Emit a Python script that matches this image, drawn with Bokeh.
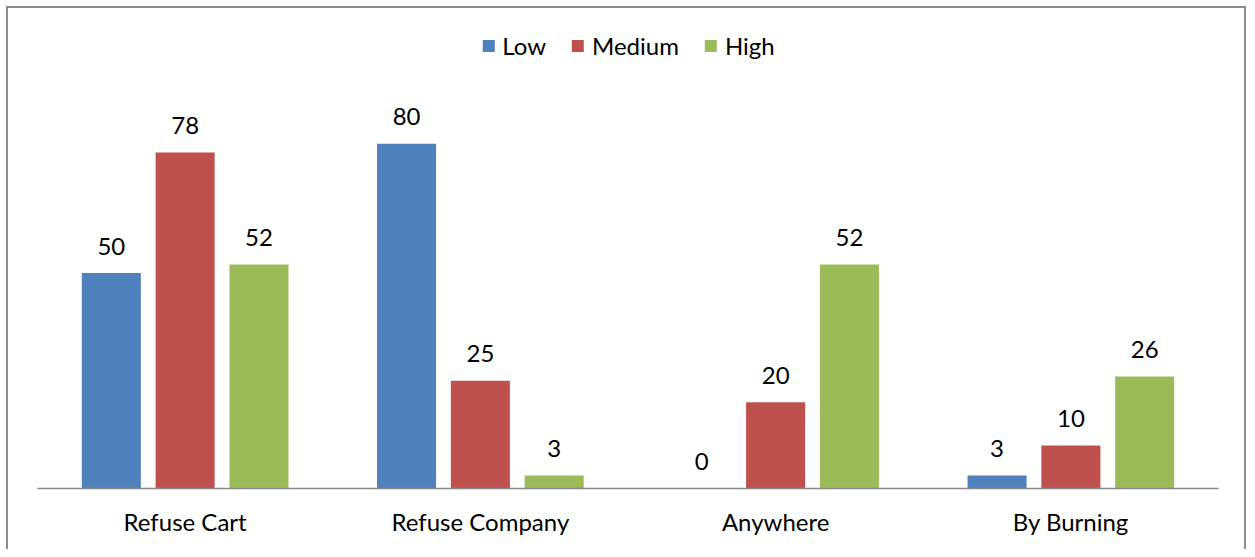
from bokeh.plotting import figure
from bokeh.models import ColumnDataSource, FactorRange, Range1d, Legend, LegendItem
from bokeh.transform import dodge
from bokeh.core.properties import value
from bokeh.embed import file_html
from bokeh.resources import INLINE

categories = ["Refuse Cart", "Refuse Company", "Anywhere", "By Burning"]
series_names = ["Low", "Medium", "High"]
low = [50, 80, 0, 3]
medium = [78, 25, 20, 10]
high = [52, 3, 52, 26]

colors = ["#4F81BD", "#C0504D", "#9BBB59"]
FONT = "Lato"

src = ColumnDataSource(dict(
    cat=categories,
    Low=low, Medium=medium, High=high,
    Low_t=[str(v) for v in low],
    Medium_t=[str(v) for v in medium],
    High_t=[str(v) for v in high],
))

p = figure(
    x_range=FactorRange(*categories, range_padding=0),
    y_range=Range1d(0, 110),
    width=1247, height=549,
    output_backend="svg", toolbar_location=None,
    min_border_left=37, min_border_right=29, min_border_top=14, min_border_bottom=61,
)

# outer chart border drawn behind a transparent canvas (bottom edge lies outside the picture)
g = "linear-gradient(#8c8c8c,#8c8c8c)"
p.styles = {
    "background": (
        f"{g} left 6px top 6px / 2px 100% no-repeat, "
        f"{g} left 6px top 6px / calc(100% - 7px) 2px no-repeat, "
        f"{g} right 1px top 6px / 2px 100% no-repeat, #ffffff"
    )
}
p.border_fill_color = None
p.background_fill_color = None

offsets = [-0.25, 0.0, 0.25]
renderers = []
for name, off, col in zip(series_names, offsets, colors):
    r = p.vbar(x=dodge("cat", off, range=p.x_range), top=name, width=0.2,
               source=src, fill_color=col, line_color=None)
    renderers.append(r)
    p.text(x=dodge("cat", off, range=p.x_range), y=name, text=name + "_t",
           source=src, text_align="center", text_baseline="alphabetic",
           y_offset=-27, text_font=value(FONT), text_font_size="24px",
           text_color="#000000")

legend = Legend(items=[LegendItem(label=n, renderers=[r]) for n, r in zip(series_names, renderers)],
                orientation="horizontal", location="top_center",
                glyph_width=15, glyph_height=15, label_standoff=7, spacing=24,
                padding=0, margin=17, border_line_color=None, background_fill_alpha=0,
                label_text_font=FONT, label_text_font_size="24px", label_text_color="#000000")
p.add_layout(legend, "center")

p.yaxis.visible = False
p.xgrid.grid_line_color = None
p.ygrid.grid_line_color = None
p.outline_line_color = None
p.xaxis.axis_line_color = "#888888"
p.xaxis.axis_line_width = 1.5
p.xaxis.major_tick_line_color = None
p.xaxis.minor_tick_line_color = None
p.xaxis.major_label_standoff = 12
p.xaxis.major_label_text_font = FONT
p.xaxis.major_label_text_font_size = "24px"
p.xaxis.major_label_text_color = "#000000"
p.xaxis.major_label_text_font_style = "normal"

open("out.html", "w").write(file_html(p, INLINE))
